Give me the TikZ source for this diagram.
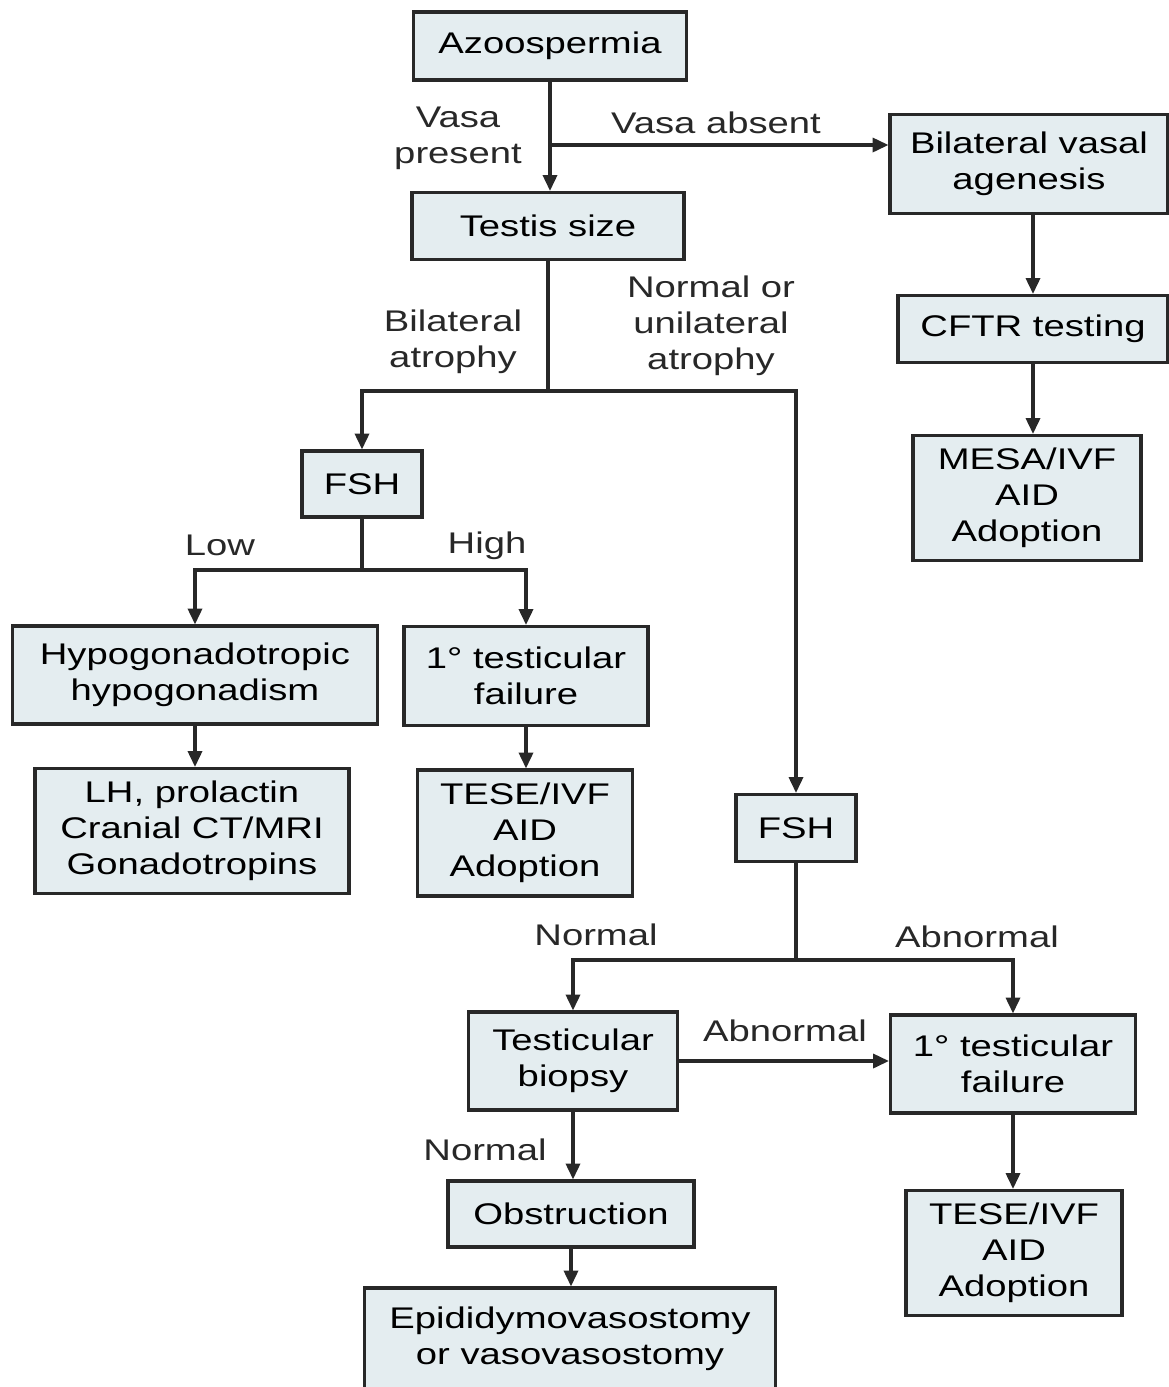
\documentclass[tikz,border=0pt]{standalone}
\usepackage{fontspec}
\setmainfont{Liberation Sans}[FakeStretch=1.28]
\usetikzlibrary{arrows.meta}
\definecolor{boxfill}{RGB}{228,237,240}
\definecolor{ink}{RGB}{40,40,40}

\begin{document}
\begin{tikzpicture}[x=0.02cm,y=-0.02cm,
  box/.style={draw=ink,fill=boxfill,line width=1.8pt,align=center,inner sep=0pt,font=\fontsize{17}{20.4}\selectfont},
  lbl/.style={align=center,text=ink,font=\fontsize{17}{20.4}\selectfont},
  line/.style={draw=ink,line width=1.8pt},
  arr/.style={line,-{Triangle[length=9pt,width=8pt]}}]
\useasboundingbox (0,0) rectangle (1169,1387);

\node[box,minimum width=5.46cm,minimum height=1.36cm] (azo) at (550,46) {Azoospermia};
\node[box,minimum width=5.44cm,minimum height=1.34cm] (testis) at (548,226) {Testis size};
\node[box,minimum width=5.56cm,minimum height=1.98cm] (bva) at (1029,164) {Bilateral vasal\\agenesis};
\node[box,minimum width=5.40cm,minimum height=1.34cm] (cftr) at (1033,329) {CFTR testing};
\node[box,minimum width=4.56cm,minimum height=2.50cm] (mesa) at (1027,498) {MESA/IVF\\AID\\Adoption};
\node[box,minimum width=2.40cm,minimum height=1.32cm] (fshL) at (362,484) {FSH};
\node[box,minimum width=7.30cm,minimum height=1.96cm] (hypo) at (195,675) {Hypogonadotropic\\hypogonadism};
\node[box,minimum width=4.88cm,minimum height=1.98cm] (failL) at (526,676) {1° testicular\\failure};
\node[box,minimum width=6.28cm,minimum height=2.50cm] (lh) at (192,831) {LH, prolactin\\Cranial CT/MRI\\Gonadotropins};
\node[box,minimum width=4.30cm,minimum height=2.52cm] (teseL) at (525,833) {TESE/IVF\\AID\\Adoption};
\node[box,minimum width=2.40cm,minimum height=1.34cm] (fshR) at (796,828) {FSH};
\node[box,minimum width=4.18cm,minimum height=1.96cm] (biopsy) at (573,1061) {Testicular\\biopsy};
\node[box,minimum width=4.90cm,minimum height=1.96cm] (failR) at (1013,1064) {1° testicular\\failure};
\node[box,minimum width=4.92cm,minimum height=1.32cm] (obst) at (571,1214) {Obstruction};
\node[box,minimum width=4.32cm,minimum height=2.50cm] (teseR) at (1014,1253) {TESE/IVF\\AID\\Adoption};
\node[box,minimum width=8.22cm,minimum height=2.04cm] (epi) at (570,1339) {Epididymovasostomy\\or vasovasostomy};

\node[lbl] (lvp) at (458,138) {Vasa\\present};
\node[lbl] (lva) at (716,123) {Vasa absent};
\node[lbl] (lba) at (453,342) {Bilateral\\atrophy};
\node[lbl] (lnu) at (711,326) {Normal or\\unilateral\\atrophy};
\node[lbl] (llow) at (220,545) {Low};
\node[lbl] (lhigh) at (487,546) {High};
\node[lbl] (lnorm) at (596,935) {Normal};
\node[lbl] (labn) at (977,937) {Abnormal};
\node[lbl] (labnb) at (785,1031) {Abnormal};
\node[lbl] (lnormb) at (485,1150) {Normal};

\coordinate (vj) at (548,145);
\coordinate (tj) at (548,391);
\coordinate (fj) at (362,570);
\coordinate (gj) at (796,960);

\draw[arr] (azo.south) -- (azo.south |- testis.north);
\draw[arr] (vj) -- (vj -| bva.west);
\draw[arr] (cftr.north |- bva.south) -- (cftr.north);
\draw[arr] (cftr.south) -- (cftr.south |- mesa.north);
\draw[line] (testis.south) -- (tj);
\draw[arr] (tj) -| (fshL.north);
\draw[arr] (tj) -| (fshR.north);
\draw[line] (fshL.south) -- (fj);
\draw[arr] (fj) -| (hypo.north);
\draw[arr] (fj) -| (failL.north);
\draw[arr] (hypo.south) -- (hypo.south |- lh.north);
\draw[arr] (failL.south) -- (failL.south |- teseL.north);
\draw[line] (fshR.south) -- (gj);
\draw[arr] (gj) -| (biopsy.north);
\draw[arr] (gj) -| (failR.north);
\draw[arr] (biopsy.east) -- (biopsy.east -| failR.west);
\draw[arr] (biopsy.south) -- (biopsy.south |- obst.north);
\draw[arr] (obst.south) -- (obst.south |- epi.north);
\draw[arr] (failR.south) -- (failR.south |- teseR.north);
\end{tikzpicture}
\end{document}
